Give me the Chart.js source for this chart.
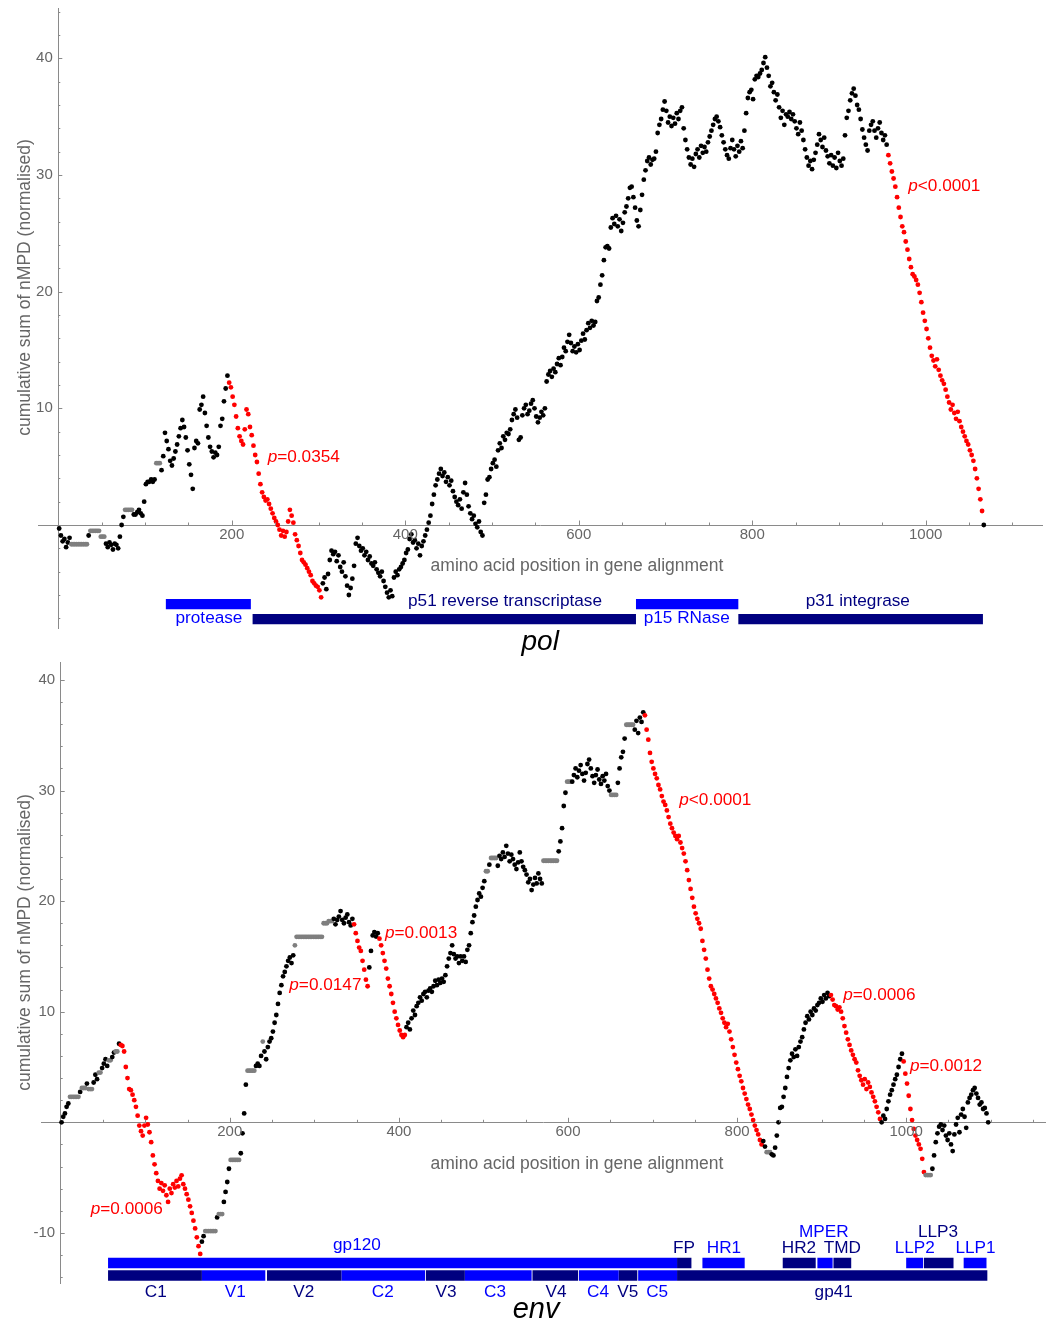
<!DOCTYPE html>
<html><head><meta charset="utf-8">
<script src="https://cdn.jsdelivr.net/npm/chart.js@4/dist/chart.umd.min.js"></script>
<style>
html,body{margin:0;padding:0;background:#fff;}
#wrap{position:relative;width:1052px;height:1323px;overflow:hidden;}
canvas{position:absolute;left:0;top:0;}
</style></head><body>
<div id="wrap"><canvas id="c1" width="1052" height="1323"></canvas><canvas id="c2" width="1052" height="1323"></canvas></div>
<script>
// ---------------- DATA ----------------
// pol: cumulative sum of nMPD, sampled every 2 amino acid positions starting at 1
const polStart = 1, polStep = 2;
const polValues = [
-0.3,-0.9,-1.4,-1.2,-1.9,-1.5,-1.1,-1.65,-1.65,-1.65,
-1.65,-1.65,-1.65,-1.65,-1.65,-1.65,-1.65,-0.9,-0.5,-0.5,
-0.5,-0.5,-0.5,-0.5,-1.0,-1.0,-1.0,-1.6,-1.9,-1.5,
-1.7,-2.1,-1.6,-1.7,-2.0,-1.0,0.0,0.7,1.3,1.3,
1.3,1.3,1.3,0.9,0.9,1.1,1.3,1.0,0.8,2.0,
3.5,3.7,3.7,3.9,3.7,3.9,5.3,5.3,5.3,4.7,
5.9,7.9,7.2,6.5,5.5,5.1,5.7,6.3,6.9,7.6,
8.3,9.0,8.4,7.5,6.4,5.2,4.3,3.1,6.6,7.2,
7.0,9.9,10.3,11.0,9.6,8.5,7.5,6.7,6.3,5.8,
6.2,6.0,6.7,8.5,9.1,10.6,11.7,12.8,12.2,11.8,
11.0,10.3,9.3,8.3,7.6,7.2,6.9,8.2,9.9,9.5,
8.4,7.7,6.8,6.0,5.4,4.4,3.5,2.8,2.4,2.1,
2.2,1.8,1.4,1.0,0.6,0.3,0.0,-0.4,-0.9,-0.5,
-1.0,-0.6,0.3,1.3,0.8,0.2,-0.8,-1.3,-1.8,-2.4,
-3.0,-3.2,-3.4,-3.7,-4.0,-4.3,-4.8,-5.0,-5.2,-5.3,
-5.6,-6.2,-5.0,-4.5,-5.5,-4.2,-3.0,-2.2,-2.5,-2.3,
-3.1,-2.6,-3.6,-4.0,-3.2,-4.4,-5.2,-6.0,-5.4,-4.6,
-3.5,-1.6,-1.1,-1.8,-2.2,-2.0,-2.6,-2.3,-3.0,-2.7,
-3.3,-3.5,-3.2,-3.8,-4.1,-4.4,-4.0,-4.8,-5.3,-5.8,
-6.2,-5.6,-6.1,-4.5,-4.0,-4.3,-3.8,-3.6,-3.3,-3.0,
-2.4,-2.1,-1.2,-0.8,-1.5,-1.3,-2.0,-1.6,-2.6,-1.8,
-1.4,-0.9,-0.4,0.2,0.8,1.8,2.6,3.4,3.9,4.4,
4.8,4.2,4.5,3.7,4.1,3.4,3.8,2.9,2.4,2.0,
1.7,2.2,1.4,2.8,3.6,2.6,1.6,1.0,0.5,0.8,
0.1,-0.2,0.3,-0.6,-0.9,1.9,2.6,3.9,4.1,4.8,
5.3,5.6,5.0,6.4,7.0,6.6,7.6,7.3,7.9,7.8,
8.2,9.0,9.5,9.9,9.2,7.3,7.5,9.4,10.0,10.3,
9.5,9.8,10.4,10.7,10.0,9.3,8.8,9.2,9.7,9.4,
10.0,12.3,12.9,13.2,12.7,13.4,13.1,13.8,14.3,13.7,
14.4,15.2,14.9,15.7,16.3,15.6,14.9,15.3,14.8,15.5,
15.0,15.8,16.4,15.9,16.7,17.3,16.9,17.5,17.1,17.4,
19.2,19.5,20.6,21.4,22.7,23.8,23.9,23.7,25.5,26.3,
25.8,26.5,25.6,26.2,25.2,25.9,26.8,27.3,28.0,28.9,
29.0,28.1,27.2,26.1,25.6,27.0,28.3,29.6,30.4,31.2,
31.5,30.9,31.3,31.4,32.0,33.6,34.3,34.8,35.6,36.3,
35.5,34.5,35.0,34.2,34.9,34.4,35.3,34.8,35.5,35.8,
34.0,33.0,32.2,31.5,30.9,31.4,30.7,31.8,32.2,31.5,
32.5,31.9,32.4,32.0,32.8,33.3,33.8,34.3,34.8,35.0,
34.6,34.1,33.4,32.8,32.2,31.7,31.4,32.3,33.0,32.2,
31.6,32.5,32.0,32.9,32.3,33.8,35.3,36.6,37.1,37.3,
36.5,38.2,38.5,38.4,38.7,39.0,39.6,40.1,39.2,38.5,
37.6,37.9,37.1,36.4,36.9,35.8,34.9,35.5,34.3,35.2,
35.0,35.4,34.8,35.2,34.6,34.0,33.5,34.5,33.8,33.0,
32.2,31.5,30.8,31.2,30.5,31.3,31.9,32.6,33.5,33.0,
32.4,33.2,32.1,31.6,31.0,31.7,30.8,31.5,30.6,31.9,
31.2,30.8,31.4,33.4,34.9,35.5,36.4,37.0,37.4,36.8,
36.0,35.6,34.8,33.9,33.2,32.6,32.1,33.8,34.3,34.6,
33.8,33.2,34.0,34.5,33.6,33.0,33.4,32.6,31.7,31.0,
30.3,29.7,29.0,28.1,27.2,26.4,25.6,25.1,24.3,23.6,
22.8,22.1,21.5,21.3,21.0,20.6,19.9,19.1,18.2,17.5,
16.8,16.0,15.2,14.5,14.1,13.6,14.2,13.3,12.8,12.4,
12.1,11.6,11.0,10.5,9.9,10.3,9.6,9.1,9.7,8.9,
8.4,8.0,7.6,7.2,6.9,6.4,6.0,5.5,4.8,4.0,
3.1,2.2,1.2,0.0
];
const polRed = [[196,304],[956,1066]];
const polGray = [[15,33],[37,47],[49,53],[77,85],[113,117]];
const polPLabels = ["p=0.0354","p<0.0001"];
const polGenes = [["protease",124,222],["p51 reverse transcriptase",224,666],["p15 RNase",666,784],["p31 integrase",784,1066]];

// env: cumulative sum of nMPD, sampled every 2 amino acid positions starting at 1
const envStart = 1, envStep = 2;
const envValues = [
0.0,0.5,0.8,1.4,1.7,2.3,2.3,2.3,2.3,2.3,
2.3,2.75,3.1,3.1,3.1,3.5,3.0,3.0,3.0,3.6,
4.3,3.9,4.5,4.5,4.9,5.3,5.7,5.1,5.6,5.6,
5.9,6.3,6.4,6.4,7.1,7.0,6.9,6.4,5.0,4.0,
3.0,2.9,2.5,2.0,1.4,0.6,-0.3,-0.8,-1.2,-0.3,
0.4,-0.2,-0.9,-1.8,-3.0,-3.8,-4.6,-5.3,-6.0,-5.5,
-6.2,-5.7,-6.6,-7.2,-6.0,-6.4,-5.6,-5.9,-5.3,-5.8,
-5.1,-4.8,-5.6,-6.0,-6.5,-7.0,-7.6,-8.2,-8.9,-9.6,
-10.4,-11.2,-11.9,-10.8,-10.3,-9.84,-9.84,-9.84,-9.84,-9.84,
-9.84,-9.84,-8.6,-8.3,-8.3,-8.3,-7.2,-6.3,-5.4,-4.2,
-3.4,-3.4,-3.4,-3.4,-3.4,-3.4,-2.8,-1.0,0.8,3.4,
4.67,4.67,4.67,4.67,4.67,5.1,5.3,5.1,6.0,7.3,
6.4,5.7,6.8,7.3,7.6,8.2,9.0,9.7,10.7,11.7,
12.4,13.2,13.6,14.1,14.6,14.9,14.4,15.1,16.0,16.77,
16.77,16.77,16.77,16.77,16.77,16.77,16.77,16.77,16.77,16.77,
16.77,16.77,16.77,16.77,16.77,18.0,18.0,18.0,18.2,18.2,
18.2,18.4,17.9,18.3,18.6,19.1,18.3,18.0,18.5,18.8,
18.1,17.8,18.4,17.9,17.1,16.4,15.8,15.5,14.6,13.8,
12.9,12.3,14.0,15.5,16.9,17.2,16.8,17.1,16.6,16.0,
15.3,14.6,13.9,13.0,12.3,11.6,10.8,10.0,9.4,8.8,
8.3,7.9,7.7,7.9,8.6,9.0,8.4,9.4,10.1,9.7,
10.5,10.8,11.3,11.0,11.6,11.8,11.3,11.9,12.1,11.8,
12.3,12.8,12.4,12.9,12.6,13.0,12.7,13.3,14.1,14.8,
15.3,16.0,15.2,14.8,15.0,14.4,15.0,14.6,15.0,14.5,
15.6,16.0,17.1,18.1,18.7,19.5,20.1,20.7,20.4,21.2,
21.8,22.7,22.7,23.3,23.9,23.9,23.9,23.9,23.2,24.1,
23.8,24.4,24.0,25.0,24.3,23.6,24.2,23.8,23.3,22.9,
23.5,24.4,23.6,23.1,22.8,22.4,21.7,22.0,21.0,21.5,
22.1,21.6,22.5,22.0,21.6,23.65,23.65,23.65,23.65,23.65,
23.65,23.65,23.65,23.65,24.5,25.4,26.6,28.6,29.8,30.8,
30.8,30.8,30.8,31.4,32.0,31.2,31.8,32.3,31.5,30.9,
31.6,32.4,32.8,32.0,31.3,30.7,31.4,31.9,31.0,30.6,
31.3,30.9,31.5,30.4,30.0,29.6,29.6,29.6,29.6,30.7,
32.0,33.0,33.5,34.7,35.95,35.95,35.95,35.95,35.95,35.5,
36.3,35.2,36.6,36.2,37.07,36.8,35.5,34.6,33.4,32.6,
32.0,31.5,31.1,30.5,30.1,29.5,29.0,28.7,28.2,27.6,
27.0,26.6,26.2,25.9,25.6,25.9,25.3,24.8,24.3,23.6,
22.8,21.9,21.1,20.3,19.5,18.9,18.4,18.0,17.5,16.4,
15.6,14.8,13.8,13.0,12.3,12.0,11.6,11.2,10.8,10.3,
9.9,9.4,9.0,8.6,8.9,8.2,7.5,6.8,6.1,5.4,
4.8,4.2,3.7,3.1,2.6,2.1,1.6,1.2,0.7,0.2,
-0.3,-0.7,-1.1,-1.6,-2.0,-1.7,-2.2,-2.7,-2.7,-2.7,
-2.9,-3.0,-2.3,-1.2,0.0,1.3,1.4,2.3,3.1,4.1,
4.9,5.6,6.2,5.9,6.6,6.0,6.8,7.3,7.7,8.4,
9.0,9.6,9.3,10.0,9.7,10.3,10.1,10.6,10.8,11.2,
10.9,11.5,11.2,11.7,11.4,11.5,11.1,10.6,10.5,10.2,
10.4,10.0,9.4,8.7,8.1,7.5,7.0,6.5,6.1,5.7,
5.4,4.7,4.2,3.8,3.4,3.9,3.0,3.6,3.2,2.7,
2.3,1.9,1.4,0.9,0.3,0.0,0.6,0.3,1.2,1.9,
2.5,2.9,3.4,3.9,4.3,5.0,5.7,6.2,5.5,4.4,
3.5,2.4,1.2,0.2,-0.6,-1.2,-1.6,-2.0,-2.4,-3.3,
-4.5,-4.77,-4.77,-4.77,-4.77,-4.2,-3.0,-1.8,-1.0,-0.4,
-0.2,-0.7,-0.3,-1.2,-1.6,-1.0,-2.0,-2.6,-1.1,-0.2,
0.4,-0.9,0.7,1.2,0.5,-0.5,1.8,2.2,2.5,2.9,
3.1,2.6,2.2,1.6,1.8,1.2,1.3,0.8,0.0
];
const envRed = [[70,165],[346,363],[376,407],[691,830],[910,970],[996,1022]];
const envGray = [[11,21],[25,29],[33,37],[45,47],[57,59],[65,67],[171,183],[187,191],[201,211],[221,229],[239,239],[277,321],[503,505],[509,515],[571,587],[599,603],[651,657],[669,677],[835,839],[1023,1029]];
const envPLabels = ["p=0.0006","p=0.0147","p=0.0013","p<0.0001","p=0.0006","p=0.0012"];
const envGenes = [
 ["gp120",56,729],["FP",729,746],["HR1",759,809],["HR2",854,893],["MPER",895,913],["TMD",914,935],["LLP2",1000,1020],["LLP3",1021,1056],["LLP1",1068,1095],
 ["C1",56,167],["V1",167,242],["V2",244,332],["C2",332,431],["V3",432,478],["C3",478,557],["V4",558,612],["C4",613,660],["V5",660,682],["C5",683,729],["gp41",729,1096]
];
const xTickLabels = [200,400,600,800,1000];
const polYTickLabels = [10,20,30,40];
const envYTickLabels = [-10,10,20,30,40];
const X_TITLE = "amino acid position in gene alignment";
const Y_TITLE = "cumulative sum of nMPD (normalised)";

// ---------------- STYLE / LAYOUT ----------------
const FONT = '"Liberation Sans", Arial, Helvetica, sans-serif';
const BLUE = '#0000ff', NAVY = '#000080', AXIS = '#8a8a8a', TXT = '#666666';
const polLayout = {
  id:'pol', name:'pol', padding:{left:38.3, right:10, top:8.3, bottom:1323-628.3},
  xMin:-23.06, xMax:1134.1, yMin:-8.854, yMax:44.29,
  rowY:[-6.78,-8.07], barWidth:10.3,
  geneRow:[0,1,0,1], geneColor:[BLUE,NAVY,BLUE,NAVY],
  geneLabelPos:[[173.7,-8.01],[515,-6.57],[724.5,-7.99],[921.7,-6.57]],
  pLabelPos:[[241.4,5.77],[979.9,29.0]],
  xTitlePos:[598,-3.57], yTitleY:20.36, yTitleX:25.3, namePos:[555.6,-10.71], nameSize:28
};
const envLayout = {
  id:'env', name:'env', padding:{left:41, right:7, top:662.7, bottom:1323-1283.3},
  xMin:-23.3, xMax:1164.2, yMin:-14.56, yMax:41.56,
  rowY:[-12.73,-13.85], barWidth:10.6,
  geneRow:[0,0,0,0,0,0,0,0,0, 1,1,1,1,1,1,1,1,1,1,1],
  geneColor:[BLUE,NAVY,BLUE,NAVY,BLUE,NAVY,BLUE,NAVY,BLUE, NAVY,BLUE,NAVY,BLUE,NAVY,BLUE,NAVY,BLUE,NAVY,BLUE,NAVY],
  geneLabelPos:[[350.4,-11.16],[737.2,-11.39],[784.5,-11.39],[873.2,-11.39],[902.5,-9.98],[924.4,-11.39],[1010.1,-11.39],[1037.6,-9.98],[1082.0,-11.39],
    [112.4,-15.37],[206.5,-15.37],[287.4,-15.37],[381.0,-15.37],[455.7,-15.37],[513.7,-15.37],[585.8,-15.37],[635.5,-15.37],[670.6,-15.37],[705.5,-15.37],[914.3,-15.37]],
  pLabelPos:[[35.5,-7.84],[270.4,12.37],[383.6,17.09],[731.6,29.15],[925.6,11.47],[1004.5,5.03]],
  xTitlePos:[610.6,-3.77], yTitleY:16.26, yTitleX:25, namePos:[562.2,-17.7], nameSize:29
};

function inRanges(ranges, x){ for (const r of ranges) if (x>=r[0] && x<=r[1]) return true; return false; }
function pointColor(x, red, gray){
  const r = inRanges(red,x), g = inRanges(gray,x);
  if (r && g) return '#ff7a7a';
  if (r) return '#ff0000';
  if (g) return '#7f7f7f';
  return '#000000';
}

function decor(L, d){
  return { id:'decor_'+L.id, afterDraw(chart){
    const ctx = chart.ctx, xs = chart.scales.x, ys = chart.scales.y;
    const X = v => xs.getPixelForValue(v), Y = v => ys.getPixelForValue(v);
    const ax = X(0), ay = Y(0);
    ctx.save();
    ctx.strokeStyle = AXIS; ctx.lineWidth = 1; ctx.beginPath();
    for (let v=50; v<=xs.max; v+=50){ const px=Math.round(X(v))+0.5; ctx.moveTo(px, ay); ctx.lineTo(px, ay-(v%200===0?4.5:2.5)); }
    for (let v=Math.ceil(ys.min/2)*2; v<=ys.max; v+=2){ if (v===0) continue; const py=Math.round(Y(v))+0.5; ctx.moveTo(ax, py); ctx.lineTo(ax+(v%10===0?4:2), py); }
    ctx.stroke();
    ctx.fillStyle = TXT; ctx.font = '15px '+FONT; ctx.textBaseline = 'middle';
    ctx.textAlign = 'center';
    for (const v of d.xTicks) ctx.fillText(String(v), X(v), ay+9.5);
    ctx.textAlign = 'right';
    for (const v of d.yTicks) ctx.fillText(String(v), ax-5.5, Y(v));
    ctx.font = '17.5px '+FONT; ctx.textAlign = 'center';
    ctx.fillText(X_TITLE, X(L.xTitlePos[0]), Y(L.xTitlePos[1]));
    ctx.save(); ctx.translate(L.yTitleX, Y(L.yTitleY)); ctx.rotate(-Math.PI/2); ctx.fillText(Y_TITLE, 0, 0); ctx.restore();
    ctx.textAlign = 'left'; ctx.fillStyle = '#ff0000';
    d.pLabels.forEach((t,i)=>{
      const px = X(L.pLabelPos[i][0]), py = Y(L.pLabelPos[i][1]);
      ctx.font = 'italic 17.2px '+FONT; ctx.fillText(t[0], px, py);
      const w = ctx.measureText(t[0]).width;
      ctx.font = '17.2px '+FONT; ctx.fillText(t.slice(1), px+w, py);
    });
    ctx.textAlign = 'center'; ctx.font = '17.2px '+FONT;
    d.genes.forEach((g,i)=>{ ctx.fillStyle = L.geneColor[i]; ctx.fillText(g[0], X(L.geneLabelPos[i][0]), Y(L.geneLabelPos[i][1])); });
    ctx.fillStyle = '#000'; ctx.font = 'italic '+L.nameSize+'px '+FONT; ctx.textBaseline = 'alphabetic';
    ctx.fillText(L.name, X(L.namePos[0]), Y(L.namePos[1]));
    ctx.restore();
  }};
}

function buildPanel(canvasId, L, d){
  const pts = d.values.map((v,i)=>({x: d.start + i*d.step, y: v}));
  const datasets = [{
    type:'scatter', data:pts, order:0, showLine:false,
    pointRadius:2.4, pointHoverRadius:2.4, pointBorderWidth:0, borderWidth:0,
    pointBackgroundColor: c => (c.raw ? pointColor(c.raw.x, d.red, d.gray) : '#000'),
    pointBorderColor:'rgba(0,0,0,0)'
  }];
  d.genes.forEach((g,i)=>{
    const yv = L.rowY[L.geneRow[i]];
    datasets.push({ type:'line', data:[{x:g[1],y:yv},{x:g[2],y:yv}], order:1, showLine:true, fill:false,
      borderColor:L.geneColor[i], borderWidth:L.barWidth, borderCapStyle:'butt', pointRadius:0, pointHoverRadius:0, tension:0 });
  });
  const axisCommon = { grid:{display:false, drawTicks:false}, ticks:{display:false}, border:{display:true, color:AXIS, width:1} };
  return new Chart(document.getElementById(canvasId), {
    type:'scatter',
    data:{datasets},
    options:{
      responsive:false, animation:false, devicePixelRatio:1,
      layout:{padding:L.padding},
      plugins:{legend:{display:false}, tooltip:{enabled:false}},
      events:[],
      scales:{
        x:Object.assign({type:'linear', min:L.xMin, max:L.xMax, position:{y:0}}, axisCommon),
        y:Object.assign({type:'linear', min:L.yMin, max:L.yMax, position:{x:0}}, axisCommon)
      }
    },
    plugins:[decor(L, d)]
  });
}

buildPanel('c1', polLayout, {values:polValues, start:polStart, step:polStep, red:polRed, gray:polGray, genes:polGenes, pLabels:polPLabels, xTicks:xTickLabels, yTicks:polYTickLabels});
buildPanel('c2', envLayout, {values:envValues, start:envStart, step:envStep, red:envRed, gray:envGray, genes:envGenes, pLabels:envPLabels, xTicks:xTickLabels, yTicks:envYTickLabels});
</script>
</body></html>
